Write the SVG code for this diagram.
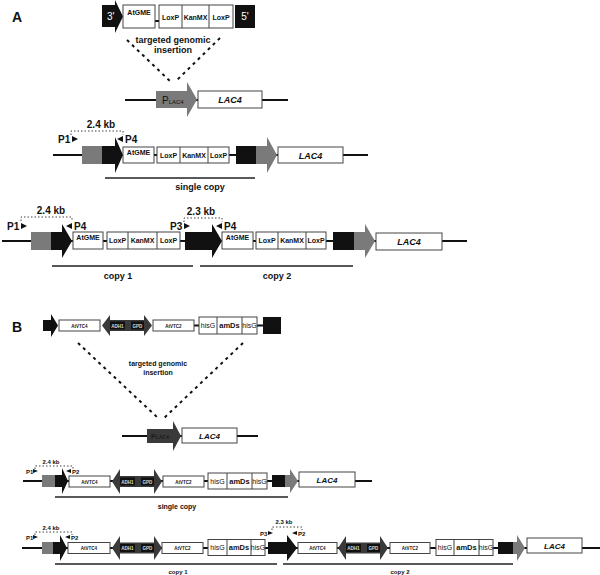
<svg xmlns="http://www.w3.org/2000/svg" width="600" height="575" viewBox="0 0 600 575">
<style>
text{font-family:"Liberation Sans",Arial,sans-serif;font-weight:bold;fill:#111}
.box{fill:#fff;stroke:#444;stroke-width:1}
.blk{fill:#111}
.gry{fill:#7a7a7a}
.dk{fill:#3a3a3a}
.ln{stroke:#111;stroke-width:2;fill:none}
.ul{stroke:#222;stroke-width:1.5;fill:none}
.dash{stroke:#111;stroke-width:2;stroke-dasharray:3,4;fill:none}
.dot{stroke:#111;stroke-width:0.8;stroke-dasharray:1.5,2;fill:none}
.c{text-anchor:middle}
.s7{font-size:7px}
.s5{font-size:4.5px}
.it{font-style:italic}
.h{font-weight:normal}
.w{fill:#fff}
.lg{fill:#ddd}
</style>
<rect width="600" height="575" fill="#fff"/>

<g id="connectors">
  <!-- A -->
  <path class="dash" d="M127 40 L172 83 M220 38 L175 82"/>
  <path class="ln" d="M125 100 H288"/>
  <path class="dot" d="M71 135 V131 H123 V135"/>
  <path class="ln" d="M53 155 H368"/>
  <path class="ln" d="M155 21 H159"/>
  <path class="ul" d="M105 178 H255"/>
  <path class="dot" d="M21 221 V217 H72 V221"/>
  <path class="dot" d="M184 222 V218 H222 V222"/>
  <path class="ln" d="M2 241 H467"/>
  <path class="ul" d="M52 266 H193 M200 266 H353"/>
  <!-- B -->
  <path class="dash" d="M78 343 L158 418 M243 343 L162 420"/>
  <path class="ln" d="M194 325.5 H199 M257 325.5 H263"/>
  <path class="ln" d="M122 436 H258"/>
  <path class="dot" d="M35 469 V466 H73 V469"/>
  <path class="ln" d="M23 481 H372"/>
  <path class="ul" d="M55 497 H288"/>
  <path class="dot" d="M35 535 V532 H72 V535"/>
  <path class="dot" d="M272 530 V527 H302 V530"/>
  <path class="ln" d="M22 548 H600"/>
  <path class="ul" d="M55 564 H277 M283 564 H513"/>
</g>

<g id="panelA-label"><text x="12" y="22" font-size="14">A</text></g>

<g id="A-cassette">
  <path class="blk" d="M102 5 H115 V0 L123 16.5 L115 33 V27 H102 Z"/>
  <text x="107" y="20" font-size="10" class="w h">3'</text>
  <rect class="box" x="123" y="5" width="32" height="23"/>
  <text x="139" y="15" class="c s7">AtGME</text>
  <rect class="box" x="159" y="5" width="74" height="23"/>
  <path stroke="#444" stroke-width="1" d="M182 5 V28 M209 5 V28"/>
  <text x="170.5" y="19.5" class="c s7">LoxP</text>
  <text x="195.5" y="19.5" class="c s7">KanMX</text>
  <text x="221" y="19.5" class="c s7">LoxP</text>
  <rect class="blk" x="235" y="5" width="20" height="23"/>
  <text x="245" y="20" font-size="10" class="c w h">5'</text>
  <text x="173" y="43" font-size="9" class="c">targeted genomic</text>
  <text x="173" y="53" font-size="9" class="c">insertion</text>
</g>

<g id="A-locus">
  <path class="gry" d="M156 91 H187 V82 L197 99.5 L187 117 V108 H156 Z"/>
  <text x="162" y="103.5" font-size="10" class="h">P<tspan font-size="6">LAC4</tspan></text>
  <rect class="box" x="198" y="91" width="64" height="17"/>
  <text x="230" y="103" font-size="9" class="c it">LAC4</text>
</g>

<g id="A-single">
  <text x="101" y="128" font-size="10" class="c">2.4 kb</text>
  <text x="58" y="143" font-size="10">P1</text>
  <path class="blk" d="M72 136 L78 139 L72 142 Z"/>
  <path class="blk" d="M123 136 L117 139 L123 142 Z"/>
  <text x="125" y="143" font-size="10">P4</text>
  <rect class="gry" x="82" y="146" width="20" height="18"/>
  <path class="blk" d="M102 146 H115 V137 L123 155 L115 173 V164 H102 Z"/>
  <rect class="box" x="123" y="147" width="31" height="16"/>
  <text x="138.5" y="155" class="c s7">AtGME</text>
  <rect class="box" x="157" y="147" width="72" height="16"/>
  <path stroke="#444" stroke-width="1" d="M180 147 V163 M208 147 V163"/>
  <text x="168.5" y="157.5" class="c s7">LoxP</text>
  <text x="194" y="157.5" class="c s7">KanMX</text>
  <text x="218.5" y="157.5" class="c s7">LoxP</text>
  <rect class="blk" x="236" y="146" width="20" height="18"/>
  <path class="gry" d="M256 146 H267 V137 L277 155 L267 173 V164 H256 Z"/>
  <rect class="box" x="278" y="147" width="65" height="16"/>
  <text x="310.5" y="158.5" font-size="9" class="c it">LAC4</text>
  <text x="200" y="190" font-size="9" class="c">single copy</text>
</g>

<g id="A-double">
  <text x="51" y="214" font-size="10" class="c">2.4 kb</text>
  <text x="7" y="230" font-size="10">P1</text>
  <path class="blk" d="M21 223 L27 226 L21 229 Z"/>
  <path class="blk" d="M72 223 L66 226 L72 229 Z"/>
  <text x="74" y="230" font-size="10">P4</text>
  <text x="201" y="215" font-size="10" class="c">2.3 kb</text>
  <text x="170" y="230" font-size="10">P3</text>
  <path class="blk" d="M184 223 L190 226 L184 229 Z"/>
  <path class="blk" d="M222 223 L216 226 L222 229 Z"/>
  <text x="224" y="230" font-size="10">P4</text>
  <rect class="gry" x="31" y="232" width="20" height="18"/>
  <path class="blk" d="M51 232 H62 V224 L72 241 L62 258 V250 H51 Z"/>
  <rect class="box" x="73" y="232" width="30" height="17"/>
  <text x="88" y="240" class="c s7">AtGME</text>
  <rect class="box" x="107" y="232" width="73" height="17"/>
  <path stroke="#444" stroke-width="1" d="M128 232 V249 M157 232 V249"/>
  <text x="117.5" y="243" class="c s7">LoxP</text>
  <text x="142.5" y="243" class="c s7">KanMX</text>
  <text x="168.5" y="243" class="c s7">LoxP</text>
  <path class="blk" d="M185 232 H212 V224 L222 241 L212 258 V250 H185 Z"/>
  <rect class="box" x="222" y="232" width="31" height="17"/>
  <text x="237.5" y="240" class="c s7">AtGME</text>
  <rect class="box" x="256" y="232" width="70" height="17"/>
  <path stroke="#444" stroke-width="1" d="M278 232 V249 M306 232 V249"/>
  <text x="267" y="243" class="c s7">LoxP</text>
  <text x="292" y="243" class="c s7">KanMX</text>
  <text x="316" y="243" class="c s7">LoxP</text>
  <rect class="blk" x="333" y="232" width="21" height="18"/>
  <path class="gry" d="M354 232 H365 V224 L375 241 L365 258 V250 H354 Z"/>
  <rect class="box" x="376" y="233" width="66" height="17"/>
  <text x="409" y="245" font-size="9" class="c it">LAC4</text>
  <text x="118" y="279" font-size="9" class="c">copy 1</text>
  <text x="277" y="279" font-size="9" class="c">copy 2</text>
</g>

<g id="panelB-label"><text x="12" y="332" font-size="14">B</text></g>

<g id="B-cassette">
  <path class="blk" d="M43 320 H51 V314 L58 325.5 L51 337 V331 H43 Z"/>
  <rect class="box" x="59" y="320" width="41" height="11"/>
  <text x="79.5" y="327.5" class="c s5">AtVTC4</text>
  <path class="dk" d="M102 325.5 L110 315 V320 H144 V315 L152 325.5 L144 336 V331 H110 V336 Z"/>
  <rect class="blk" x="110" y="321.5" width="15" height="8"/>
  <rect class="blk" x="131" y="321.5" width="13" height="8"/>
  <text x="117.5" y="327.5" class="c s5 lg">ADH1</text>
  <text x="137.5" y="327.5" class="c s5 lg">GPD</text>
  <rect class="box" x="153" y="320" width="41" height="11"/>
  <text x="173.5" y="327.5" class="c s5">AtVTC2</text>
  <rect class="box" x="199" y="317" width="58" height="17"/>
  <path stroke="#444" stroke-width="1" d="M217 317 V334 M242 317 V334"/>
  <text x="208" y="328" class="c s7 h">hisG</text>
  <text x="229.5" y="328" font-size="7.5" class="c">amDs</text>
  <text x="249.5" y="328" class="c s7 h">hisG</text>
  <rect class="blk" x="263" y="317" width="18" height="17"/>
  <text x="158" y="366" class="c s7">targeted genomic</text>
  <text x="158" y="375" class="c s7">insertion</text>
</g>

<g id="B-locus">
  <path class="dk" d="M147 429 H173 V421 L181 436 L173 451 V443 H147 Z"/>
  <text x="151" y="439" font-size="7" fill="#1a1a1a" style="fill:#1a1a1a">P<tspan font-size="5">LAC4</tspan></text>
  <rect class="box" x="182" y="428" width="55" height="15"/>
  <text x="209.5" y="438.5" font-size="8" class="c it">LAC4</text>
</g>

<g id="B-single">
  <text x="51" y="464" font-size="6" class="c">2.4 kb</text>
  <text x="26" y="474" font-size="6">P1</text>
  <path class="blk" d="M33 469 L38 471 L33 473 Z"/>
  <path class="blk" d="M71 469 L66 471 L71 473 Z"/>
  <text x="72" y="474" font-size="6">P2</text>
  <rect class="gry" x="42" y="475" width="13" height="12"/>
  <path class="blk" d="M55 475 H62 V468 L68 481 L62 494 V487 H55 Z"/>
  <rect class="box" x="69" y="476" width="41" height="11"/>
  <text x="89.5" y="483.5" class="c s5">AtVTC4</text>
  <path class="dk" d="M112 481.5 L120 469 V476 H154 V469 L162 481.5 L154 494 V487 H120 V494 Z"/>
  <rect class="blk" x="120" y="477.5" width="15" height="8"/>
  <rect class="blk" x="141" y="477.5" width="13" height="8"/>
  <text x="127.5" y="483.5" class="c s5 lg">ADH1</text>
  <text x="147.5" y="483.5" class="c s5 lg">GPD</text>
  <rect class="box" x="163" y="476" width="41" height="11"/>
  <text x="183.5" y="483.5" class="c s5">AtVTC2</text>
  <rect class="box" x="208" y="473" width="59" height="16"/>
  <path stroke="#444" stroke-width="1" d="M227 473 V489 M252 473 V489"/>
  <text x="217.5" y="483.5" class="c s7 h">hisG</text>
  <text x="239.5" y="483.5" font-size="7.5" class="c">amDs</text>
  <text x="259.5" y="483.5" class="c s7 h">hisG</text>
  <rect class="blk" x="272" y="475" width="13" height="12"/>
  <path class="gry" d="M285 475 H290 V469 L298 481 L290 493 V487 H285 Z"/>
  <rect class="box" x="299" y="472" width="56" height="15"/>
  <text x="327" y="482.5" font-size="8" class="c it">LAC4</text>
  <text x="177" y="509" font-size="7" class="c">single copy</text>
</g>

<g id="B-double">
  <text x="51" y="530" font-size="6" class="c">2.4 kb</text>
  <text x="26" y="540" font-size="6">P1</text>
  <path class="blk" d="M33 535 L38 537 L33 539 Z"/>
  <path class="blk" d="M70 535 L65 537 L70 539 Z"/>
  <text x="71" y="540" font-size="6">P2</text>
  <text x="284" y="524" font-size="6" class="c">2.3 kb</text>
  <text x="260" y="536" font-size="6">P3</text>
  <path class="blk" d="M268 531 L273 533 L268 535 Z"/>
  <path class="blk" d="M297 531 L292 533 L297 535 Z"/>
  <text x="298" y="536" font-size="6">P2</text>
  <rect class="gry" x="42" y="542" width="11" height="12"/>
  <path class="blk" d="M53 542 H60 V535 L67 548 L60 561 V554 H53 Z"/>
  <rect class="box" x="68" y="542.5" width="42" height="11"/>
  <text x="89" y="550" class="c s5">AtVTC4</text>
  <path class="dk" d="M112 548 L120 536 V542.5 H154 V536 L162 548 L154 560 V553.5 H120 V560 Z"/>
  <rect class="blk" x="120" y="544" width="15" height="8"/>
  <rect class="blk" x="141" y="544" width="13" height="8"/>
  <text x="127.5" y="550" class="c s5 lg">ADH1</text>
  <text x="147.5" y="550" class="c s5 lg">GPD</text>
  <rect class="box" x="162" y="542.5" width="41" height="11"/>
  <text x="182.5" y="550" class="c s5">AtVTC2</text>
  <rect class="box" x="208" y="539.5" width="57" height="16"/>
  <path stroke="#444" stroke-width="1" d="M227 539.5 V555.5 M251 539.5 V555.5"/>
  <text x="217.5" y="550" class="c s7 h">hisG</text>
  <text x="239" y="550" font-size="7.5" class="c">amDs</text>
  <text x="258" y="550" class="c s7 h">hisG</text>
  <path class="blk" d="M268 542 H287 V535 L297 548 L287 561 V554 H268 Z"/>
  <rect class="box" x="298" y="542.5" width="39" height="11"/>
  <text x="317.5" y="550" class="c s5">AtVTC4</text>
  <path class="dk" d="M338 548 L346 536 V542.5 H380 V536 L388 548 L380 560 V553.5 H346 V560 Z"/>
  <rect class="blk" x="346" y="544" width="15" height="8"/>
  <rect class="blk" x="367" y="544" width="13" height="8"/>
  <text x="353.5" y="550" class="c s5 lg">ADH1</text>
  <text x="373.5" y="550" class="c s5 lg">GPD</text>
  <rect class="box" x="390" y="542.5" width="40" height="11"/>
  <text x="410" y="550" class="c s5">AtVTC2</text>
  <rect class="box" x="436" y="539.5" width="57" height="16"/>
  <path stroke="#444" stroke-width="1" d="M454 539.5 V555.5 M479 539.5 V555.5"/>
  <text x="445" y="550" class="c s7 h">hisG</text>
  <text x="466.5" y="550" font-size="7.5" class="c">amDs</text>
  <text x="486" y="550" class="c s7 h">hisG</text>
  <rect class="blk" x="498" y="542" width="15" height="12"/>
  <path class="gry" d="M513 542 H517 V535 L525 548 L517 561 V554 H513 Z"/>
  <rect class="box" x="527" y="538" width="55" height="15"/>
  <text x="554.5" y="548.5" font-size="8" class="c it">LAC4</text>
  <text x="178" y="574" font-size="6" class="c">copy 1</text>
  <text x="400" y="574" font-size="6" class="c">copy 2</text>
</g>
</svg>
